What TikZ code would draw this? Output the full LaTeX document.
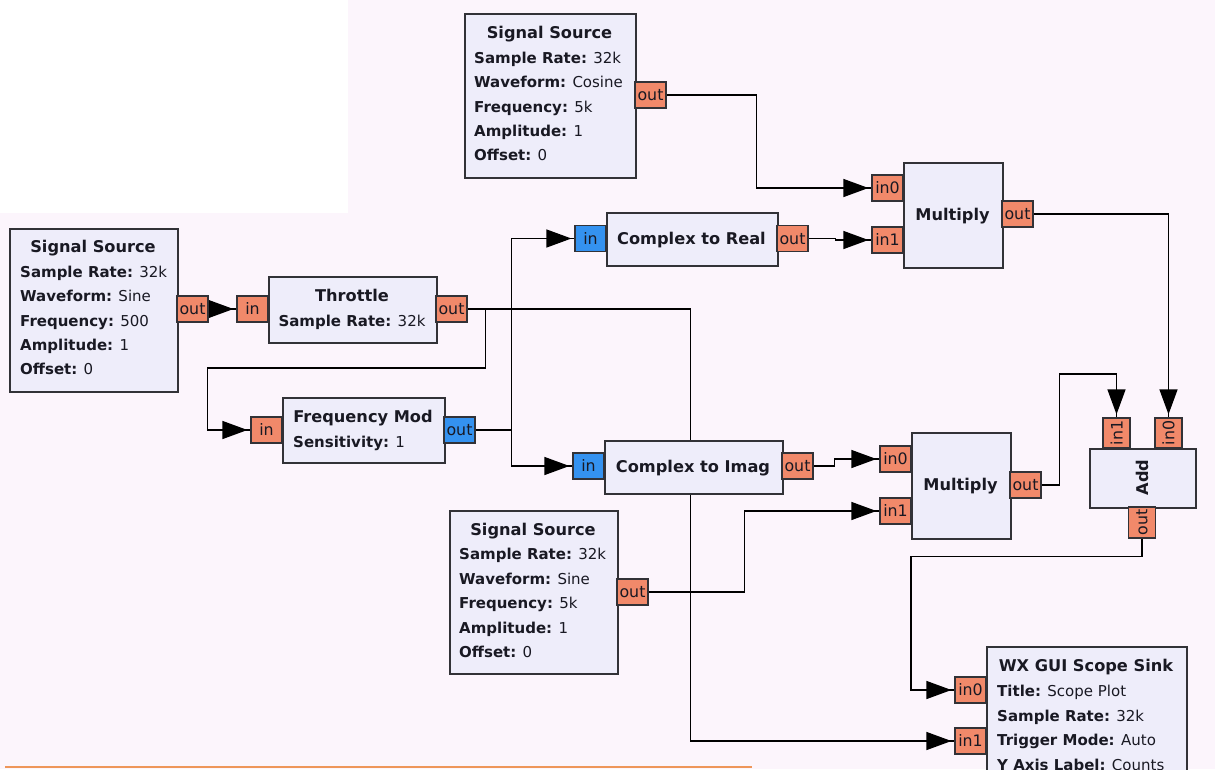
\documentclass[tikz,border=0pt]{standalone}
\usepackage{fontspec}
\setmainfont{DejaVu Sans}
\usepackage{graphicx}
\usetikzlibrary{arrows.meta,decorations.markings}

\definecolor{pagebg}{RGB}{252,245,252}
\definecolor{blockfill}{RGB}{238,237,250}
\definecolor{floatport}{RGB}{241,137,106}
\definecolor{complexport}{RGB}{52,146,240}
\definecolor{edgecol}{RGB}{50,50,55}
\definecolor{ink}{RGB}{25,25,35}
\definecolor{scrollbar}{RGB}{238,150,90}

\newcommand\blktitlefont{\fontsize{16.2}{18}\selectfont\bfseries}
\newcommand\blkparamfont{\fontsize{15}{18}\selectfont}
\newcommand\blkportfont{\fontsize{15.8}{16}\selectfont}

\pgfdeclarelayer{wires}
\pgfsetlayers{wires,main}

\begin{document}
\begin{tikzpicture}[x=1pt, y=-1pt,
  blk/.style={draw=edgecol, fill=blockfill, line width=1.5pt, inner sep=0pt, anchor=north west},
  portbase/.style={draw=edgecol, fill=floatport, line width=1.2pt, inner sep=0pt,
    font=\blkportfont, text=ink},
  port/.style={portbase, minimum width=31pt, minimum height=26pt, text height=11pt, text depth=0pt},
  cport/.style={port, fill=complexport},
  vport/.style={portbase, minimum width=27pt, minimum height=30pt},
  ttl/.style={font=\blktitlefont, text=ink, inner sep=0pt, text height=11pt, text depth=0pt},
  prm/.style={font=\blkparamfont, text=ink, inner sep=0pt, anchor=base west},
  prmc/.style={prm, anchor=base},
  wire/.style={draw=black, line width=1.3pt, postaction={decorate},
    decoration={markings, mark=at position -3pt with {\arrow[black]{Triangle[length=25pt,width=18pt]}}}}
]
\useasboundingbox (0,0) rectangle (1215,769);

% ---------- blocks ----------
% signal source feeding the throttle
\node[blk, minimum width=168pt, minimum height=163pt] (ss1) at (9,228) {};
\node[ttl] (ss1t) at (93,247) {Signal Source};
\node[prm] (ss1a) at (20,277) {\textbf{Sample Rate:} 32k};
\node[prm] (ss1b) at (20,301) {\textbf{Waveform:} Sine};
\node[prm] (ss1c) at (20,326) {\textbf{Frequency:} 500};
\node[prm] (ss1d) at (20,350) {\textbf{Amplitude:} 1};
\node[prm] (ss1e) at (20,374) {\textbf{Offset:} 0};

% throttle
\node[blk, minimum width=168pt, minimum height=66pt] (thr) at (268,276) {};
\node[ttl] (thrt) at (352,296) {Throttle};
\node[prmc] (thra) at (352,326) {\textbf{Sample Rate:} 32k};

% frequency modulator
\node[blk, minimum width=162pt, minimum height=65pt] (fm) at (282,397) {};
\node[ttl] (fmt) at (363,417) {Frequency Mod};
\node[prm] (fma) at (293,447) {\textbf{Sensitivity:} 1};

% cosine carrier source
\node[blk, minimum width=171pt, minimum height=164pt] (ss2) at (464,13) {};
\node[ttl] (ss2t) at (549.5,33) {Signal Source};
\node[prm] (ss2a) at (474,63) {\textbf{Sample Rate:} 32k};
\node[prm] (ss2b) at (474,87) {\textbf{Waveform:} Cosine};
\node[prm] (ss2c) at (474,112) {\textbf{Frequency:} 5k};
\node[prm] (ss2d) at (474,136) {\textbf{Amplitude:} 1};
\node[prm] (ss2e) at (474,160) {\textbf{Offset:} 0};

% complex to real / imag
\node[blk, minimum width=171pt, minimum height=53pt] (ctr) at (606,212) {};
\node[ttl] (ctrt) at (691.5,238.5) {Complex to Real};
\node[blk, minimum width=178pt, minimum height=53pt] (cti) at (604,440) {};
\node[ttl] (ctit) at (693,466.5) {Complex to Imag};

% multipliers
\node[blk, minimum width=99pt, minimum height=105pt] (m1) at (903,162) {};
\node[ttl] (m1t) at (952.5,214.5) {Multiply};
\node[blk, minimum width=99pt, minimum height=106pt] (m2) at (911,432) {};
\node[ttl] (m2t) at (960.5,485) {Multiply};

% sine carrier source
\node[blk, minimum width=168pt, minimum height=163pt] (ss3) at (449,510) {};
\node[ttl] (ss3t) at (533,530) {Signal Source};
\node[prm] (ss3a) at (459,559) {\textbf{Sample Rate:} 32k};
\node[prm] (ss3b) at (459,584) {\textbf{Waveform:} Sine};
\node[prm] (ss3c) at (459,608) {\textbf{Frequency:} 5k};
\node[prm] (ss3d) at (459,633) {\textbf{Amplitude:} 1};
\node[prm] (ss3e) at (459,657) {\textbf{Offset:} 0};

% adder (rotated)
\node[blk, minimum width=106pt, minimum height=59pt] (add) at (1089,448) {};
\node[font=\blktitlefont, text=ink, inner sep=0pt] (addt) at (1142,477.5) {\rotatebox{90}{Add}};

% scope sink
\node[blk, minimum width=200pt, minimum height=200pt] (wx) at (986,646) {};
\node[ttl] (wxt) at (1086,666) {WX GUI Scope Sink};
\node[prm] (wxa) at (997,696) {\textbf{Title:} Scope Plot};
\node[prm] (wxb) at (997,721) {\textbf{Sample Rate:} 32k};
\node[prm] (wxc) at (997,745) {\textbf{Trigger Mode:} Auto};
\node[prm] (wxd) at (997,770) {\textbf{Y Axis Label:} Counts};

% ---------- ports ----------
\node[port] (ss1o) at (192.5,309) {out};
\node[port] (thri) at (252.5,309) {in};
\node[port] (thro) at (451.5,309) {out};
\node[port] (fmi) at (266.5,430) {in};
\node[cport] (fmo) at (459.5,430) {out};
\node[port] (ss2o) at (650.5,95) {out};
\node[cport] (ctri) at (590.5,238.5) {in};
\node[port] (ctro) at (792.5,238.5) {out};
\node[cport] (ctii) at (588.5,466) {in};
\node[port] (ctio) at (797.5,466) {out};
\node[port] (m1i0) at (887.5,188) {in0};
\node[port] (m1i1) at (887.5,240) {in1};
\node[port] (m1o) at (1017.5,214) {out};
\node[port] (m2i0) at (895.5,459) {in0};
\node[port] (m2i1) at (895.5,511) {in1};
\node[port] (m2o) at (1025.5,485) {out};
\node[port] (ss3o) at (632.5,592) {out};
\node[vport] (addi1) at (1116.5,433) {\rotatebox{90}{in1}};
\node[vport] (addi0) at (1168.5,433) {\rotatebox{90}{in0}};
\node[vport, minimum height=31pt] (addo) at (1142,522.5) {\rotatebox{90}{out}};
\node[port] (wxi0) at (970.5,690) {in0};
\node[port] (wxi1) at (970.5,741) {in1};

% ---------- canvas and connections ----------
\begin{pgfonlayer}{wires}
  \fill[pagebg] (0,0) rectangle (1215,769);
  \fill[white] (0,0) rectangle (348,213);
  \draw[scrollbar, line width=2pt] (5,767) -- (752,767);

  \draw[wire] (ss1o.east) -- (thri.west);
  \draw[wire] (thro.east) -- ++(223,0) |- (wxi1.west);
  \draw[wire] (thro.east) -- ++(18,0) -- ++(0,59) -- ++(-278,0) |- (fmi.west);
  \draw[wire] (fmo.east) -- ++(36,0) |- (ctri.west);
  \draw[wire] (fmo.east) -- ++(36,0) |- (ctii.west);
  \draw[wire] (ss2o.east) -- ++(90,0) |- (m1i0.west);
  \draw[wire] (ctro.east) -- ++(27,0) |- (m1i1.west);
  \draw[wire] (m1o.east) -| (addi0.north);
  \draw[wire] (ctio.east) -- ++(21,0) |- (m2i0.west);
  \draw[wire] (ss3o.east) -- ++(96,0) |- (m2i1.west);
  \draw[wire] (m2o.east) -- ++(18,0) -- ++(0,-111) -| (addi1.north);
  \draw[wire] (addo.south) -- ++(0,18) -- ++(-231,0) |- (wxi0.west);
\end{pgfonlayer}
\end{tikzpicture}
\end{document}
